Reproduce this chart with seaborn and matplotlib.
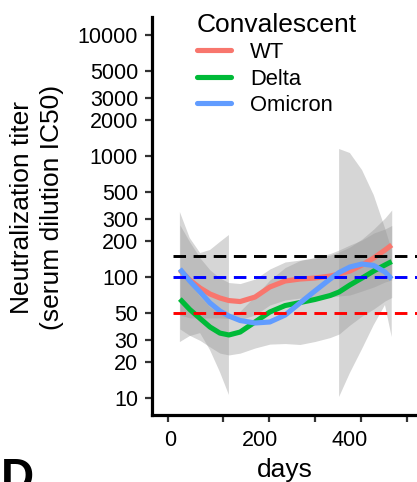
import numpy as np
import pandas as pd
import matplotlib
matplotlib.use("Agg")
import matplotlib.pyplot as plt
from matplotlib.lines import Line2D
import seaborn as sns

# ---- data -------------------------------------------------------------
days = [22, 44, 67, 89, 111, 131, 156, 189, 222, 256, 289, 322, 356, 376,
        400, 427, 453, 478, 493]

wt_fit = [114.3, 94.5, 81.1, 72.4, 67.1, 63.9, 62.7, 68.3, 82.7, 92.7, 96.2,
          98.1, 101.9, 105.9, 112.1, 125.7, 143.6, 167.2, 183.9]
wt_upper = [269.1, 194.8, 143.5, 114.3, 98.2, 90.0, 88.3, 96.2, 116.5, 133.1,
            138.1, 143.5, 151.9, 161.0, 177.0, 206.1, 249.3, 307.5, 358.0]
wt_lower = [48.6, 45.9, 45.8, 45.9, 45.9, 45.4, 44.5, 48.5, 58.7, 64.6, 67.0,
            67.1, 68.3, 69.7, 71.0, 76.6, 82.7, 90.9, 94.5]

delta_fit = [65.8, 53.9, 45.4, 38.6, 34.4, 33.2, 35.1, 42.5, 51.4, 58.1, 61.5,
             65.2, 70.3, 75.2, 85.9, 98.1, 112.1, 125.7, 134.3]
delta_upper = [116.5, 88.4, 69.0, 56.5, 50.3, 48.6, 52.3, 69.7, 94.5, 119.7,
               136.8, 145.0, 156.3, 167.2, 183.9, 202.2, 231.0, 249.4, 266.5]
delta_lower = [37.2, 32.9, 29.9, 26.4, 23.5, 22.7, 23.5, 25.9, 27.9, 28.2,
               27.7, 29.3, 31.6, 33.8, 40.1, 47.6, 54.4, 63.4, 67.7]

omicron_fit = [116.5, 92.7, 75.2, 61.0, 52.4, 47.6, 43.7, 41.7, 42.5, 48.5,
               61.0, 76.6, 96.2, 109.0, 121.0, 128.1, 124.5, 110.0, 96.2]
# confidence band is dropped where it leaves the axis range
omicron_upper = [344.5, 210.1, 157.9, 167.2, 194.7, 222.4, np.nan, np.nan,
                 np.nan, np.nan, np.nan, np.nan, np.nan, 1143, 1059, 766, 476,
                 254, 167.2]
omicron_lower = [29.0, 32.5, 34.4, 24.9, 16.4, 10.6, np.nan, np.nan, np.nan,
                 np.nan, np.nan, np.nan, np.nan, 10.2, 16.1, 25.4, 40.1, 58.7,
                 31.9]

variants = ["WT", "Delta", "Omicron"]
colors = ["#F8766D", "#00BA38", "#619CFF"]

thresholds = [150, 100, 50]
threshold_colors = ["black", "blue", "red"]

y_ticks = [10, 20, 30, 50, 100, 200, 300, 500, 1000, 2000, 3000, 5000, 10000]
x_labels = [0, 200, 400]
x_tick_marks = [-4, 118, 220, 322, 424, 527]

fits = {"WT": wt_fit, "Delta": delta_fit, "Omicron": omicron_fit}
bands = {"WT": (wt_lower, wt_upper), "Delta": (delta_lower, delta_upper),
         "Omicron": (omicron_lower, omicron_upper)}

df = pd.DataFrame({
    "days": days * 3,
    "titer": wt_fit + delta_fit + omicron_fit,
    "variant": np.repeat(variants, len(days)),
})

# ---- figure -----------------------------------------------------------
sns.set_theme(style="ticks")
plt.rcParams["font.family"] = ["Liberation Sans", "DejaVu Sans"]
plt.rcParams["text.color"] = "black"
plt.rcParams["axes.labelcolor"] = "black"

fig = plt.figure(figsize=(4.17, 4.82), dpi=100)
ax = fig.add_axes([152 / 417, 67 / 482, 273 / 417, 398 / 482])
ax.set_yscale("log")

for name, col in zip(variants, colors):
    lo, hi = bands[name]
    ax.fill_between(days, lo, hi, color="#999999", alpha=0.4, linewidth=0)
    sns.lineplot(data=df[df["variant"] == name], x="days", y="titer",
                 color=col, linewidth=3.7, ax=ax, legend=False,
                 solid_capstyle="butt")

for yv, c in zip(thresholds, threshold_colors):
    ax.hlines(yv, 7, 620, colors=c, linewidth=2.1,
              linestyles=[(0, (4.3, 2.6))])

ax.set_xlim(-40, 567)
ax.set_ylim(7.24, 14090)

ax.set_yticks(y_ticks)
ax.set_yticklabels([str(v) for v in y_ticks])
ax.yaxis.set_minor_locator(matplotlib.ticker.NullLocator())
ax.set_xticks(x_tick_marks)
ax.set_xticklabels([""] * len(x_tick_marks))
ax.set_xticks(x_labels, [str(v) for v in x_labels], minor=True)
ax.tick_params(axis="x", which="minor", length=0, pad=10.5,
               labelsize=15.5, labelcolor="black")
ax.tick_params(axis="both", which="major", length=5, width=1.6,
               color="#333333", labelsize=15.5, labelcolor="black", pad=5)

for side in ["top", "right"]:
    ax.spines[side].set_visible(False)
for side in ["left", "bottom"]:
    ax.spines[side].set_linewidth(2.3)
    ax.spines[side].set_color("black")

ax.set_xlabel("")
ax.set_ylabel("")
fig.text(285 / 417, 1 - 470 / 482, "days", ha="center", va="center",
         fontsize=19, color="black")
fig.text(37 / 417, 1 - 207 / 482,
         "Neutralization titer\n(serum dilution IC50)", ha="center",
         va="center", rotation=90, fontsize=19, linespacing=1.3,
         color="black")

handles = [Line2D([0], [0], color=c, linewidth=3.7) for c in colors]
leg = fig.legend(handles, variants, title="Convalescent",
                 loc="upper left", bbox_to_anchor=(190 / 417, 1 - 6 / 482),
                 frameon=False, fontsize=15.8, title_fontsize=19,
                 handlelength=1.55, handletextpad=0.9, labelspacing=0.25,
                 borderaxespad=0, borderpad=0.3, labelcolor="black")
leg._legend_box.align = "left"
leg.get_title().set_color("black")

fig.text(1 / 417, 1 - 491 / 482, "D", fontsize=33, fontweight="bold",
         ha="left", va="baseline", color="black")

fig.savefig("out.png", dpi=100)
